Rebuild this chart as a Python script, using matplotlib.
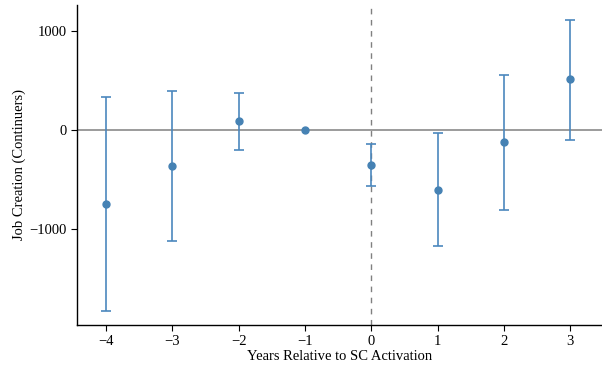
import matplotlib
matplotlib.use("Agg")
import matplotlib.pyplot as plt

# event-study estimates
years = [-4, -3, -2, -1, 0, 1, 2, 3]
coef = [-747, -367, 91, 0, -354, -603, -125, 512]
ci_low = [-1828, -1124, -199, 0, -566, -1172, -805, -98]
ci_high = [333, 394, 377, 0, -138, -34, 556, 1114]

plt.rcParams["font.family"] = ["Liberation Serif", "DejaVu Serif"]

fig = plt.figure(figsize=(6.02, 3.70), dpi=100)
ax = fig.add_axes([77 / 602, 45 / 370, 525 / 602, 320 / 370])

err_lo = [c - l for c, l in zip(coef, ci_low)]
err_hi = [h - c for c, h in zip(coef, ci_high)]
# no interval drawn for the reference year
yr_e = [y for y in years if y != -1]
c_e = [c for y, c in zip(years, coef) if y != -1]
lo_e = [e for y, e in zip(years, err_lo) if y != -1]
hi_e = [e for y, e in zip(years, err_hi) if y != -1]

ax.axhline(0, color="#808080", lw=1.1, zorder=1)
ax.axvline(0, color="#808080", lw=1.0, ls=(0, (4, 4)), zorder=1)
ax.errorbar(yr_e, c_e, yerr=[lo_e, hi_e], fmt="none", ecolor="#4a87bd",
            elinewidth=1.4, capsize=3.8, capthick=1.4, alpha=0.85, zorder=2)
ax.plot(years, coef, "o", color="#4682b4", ms=5, zorder=3)

ax.set_xlim(-4.44, 3.48)
ax.set_ylim(-1970, 1262)
ax.set_xticks(years)
ax.set_yticks([-1000, 0, 1000])
ax.set_xticklabels([f"\u2212{abs(y)}" if y < 0 else str(y) for y in years])
ax.set_yticklabels(["\u22121000", "0", "1000"])
ax.tick_params(labelsize=10.5, length=4, width=0.8)

for s in ["top", "right"]:
    ax.spines[s].set_visible(False)
for s in ["left", "bottom"]:
    ax.spines[s].set_linewidth(1.0)

ax.set_xlabel("Years Relative to SC Activation", fontsize=10.5, labelpad=1)
ax.set_ylabel("Job Creation (Continuers)", fontsize=10.5, labelpad=2)

fig.savefig("out.png", dpi=100)
